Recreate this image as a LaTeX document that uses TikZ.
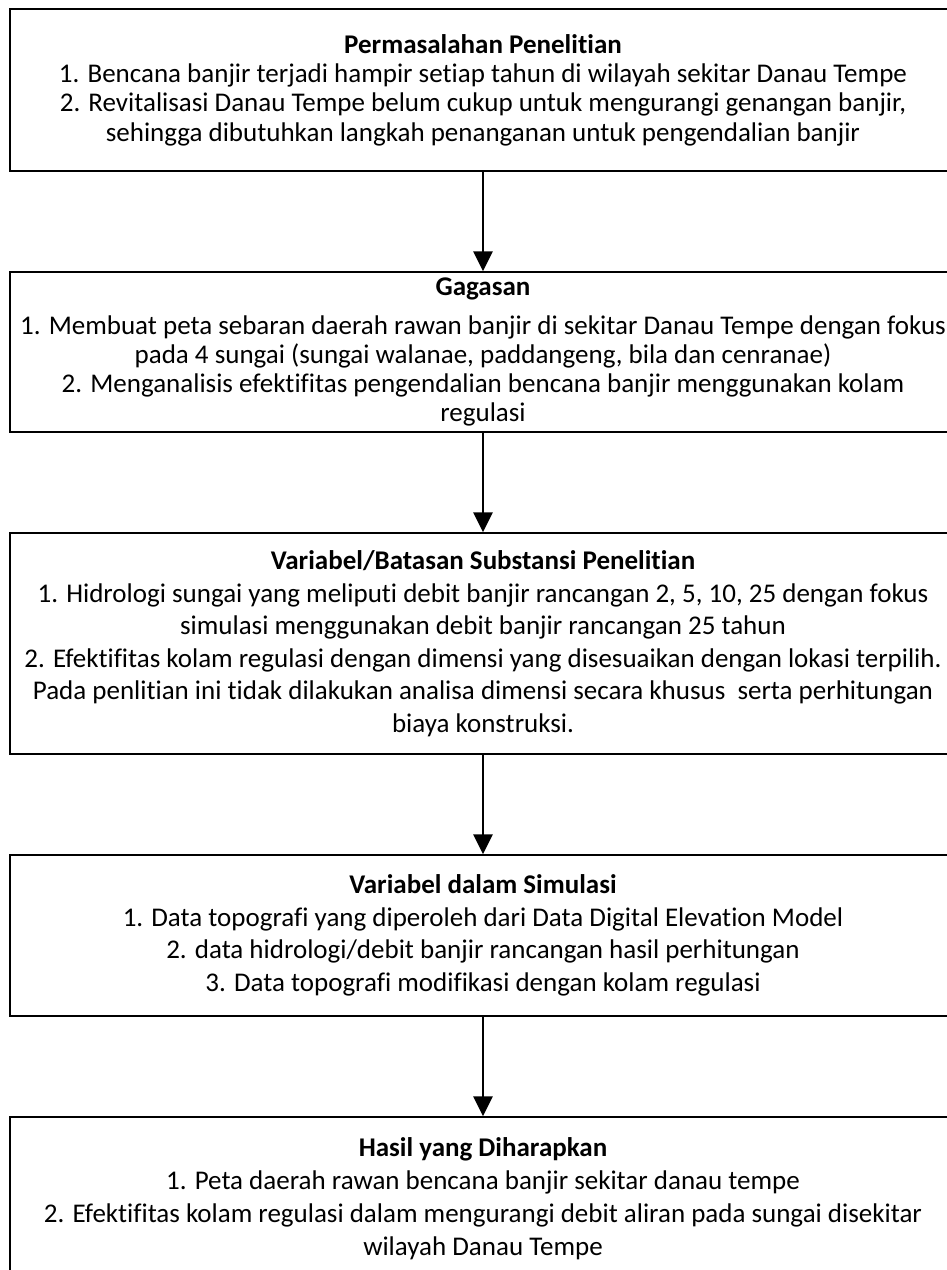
\documentclass[tikz,border=0pt]{standalone}
\usepackage{fontspec}
\setmainfont{Carlito}[RawFeature=-liga]
\usetikzlibrary{arrows.meta}
\tikzset{
  flowbox/.style={draw, line width=0.7pt, minimum width=473pt, inner sep=0pt, align=center},
  arr/.style={line width=1.3pt, -{Triangle[width=9.5pt,length=10pt]}}
}
\begin{document}
\begin{tikzpicture}[x=0.5pt,y=-0.5pt]
\useasboundingbox (0,0) rectangle (947,1270);
\clip (0,0) rectangle (947,1270);
\node[flowbox, minimum height=81pt, font=\fontsize{13.5}{14.7}\selectfont] (b1) at (483,90)
 {\textbf{Permasalahan Penelitian}\\
  1. Bencana banjir terjadi hampir setiap tahun di wilayah sekitar Danau Tempe\\
  2. Revitalisasi Danau Tempe belum cukup untuk mengurangi genangan banjir,\\
  sehingga dibutuhkan langkah penanganan untuk pengendalian banjir};
\node[flowbox, minimum height=80pt, font=\fontsize{13.5}{14.5}\selectfont] (b2) at (483,352)
 {\textbf{Gagasan}\\[5pt]
  1. Membuat peta sebaran daerah rawan banjir di sekitar Danau Tempe dengan fokus\\
  pada 4 sungai (sungai walanae, paddangeng, bila dan cenranae)\\
  2. Menganalisis efektifitas pengendalian bencana banjir menggunakan kolam\\
  regulasi};
\node[flowbox, minimum height=110.5pt, font=\fontsize{13.5}{16.25}\selectfont] (b3) at (483,643.5)
 {\textbf{Variabel/Batasan Substansi Penelitian}\\
  1. Hidrologi sungai yang meliputi debit banjir rancangan 2, 5, 10, 25 dengan fokus\\
  simulasi menggunakan debit banjir rancangan 25 tahun\\
  2. Efektifitas kolam regulasi dengan dimensi yang disesuaikan dengan lokasi terpilih.\\
  Pada penlitian ini tidak dilakukan analisa dimensi secara khusus\ \ serta perhitungan\\
  biaya konstruksi.};
\node[flowbox, minimum height=80.5pt, font=\fontsize{13.5}{16.3}\selectfont] (b4) at (483,935.5)
 {\textbf{Variabel dalam Simulasi}\\
  1. Data topografi yang diperoleh dari Data Digital Elevation Model\\
  2. data hidrologi/debit banjir rancangan hasil perhitungan\\
  3. Data topografi modifikasi dengan kolam regulasi};
\node[flowbox, minimum height=82pt, font=\fontsize{13.5}{16.5}\selectfont] (b5) at (483,1199)
 {\textbf{Hasil yang Diharapkan}\\
  1. Peta daerah rawan bencana banjir sekitar danau tempe\\
  2. Efektifitas kolam regulasi dalam mengurangi debit aliran pada sungai disekitar\\
  wilayah Danau Tempe};
\draw[arr] (b1.south) -- (b2.north);
\draw[arr] (b2.south) -- (b3.north);
\draw[arr] (b3.south) -- (b4.north);
\draw[arr] (b4.south) -- (b5.north);
\end{tikzpicture}
\end{document}
